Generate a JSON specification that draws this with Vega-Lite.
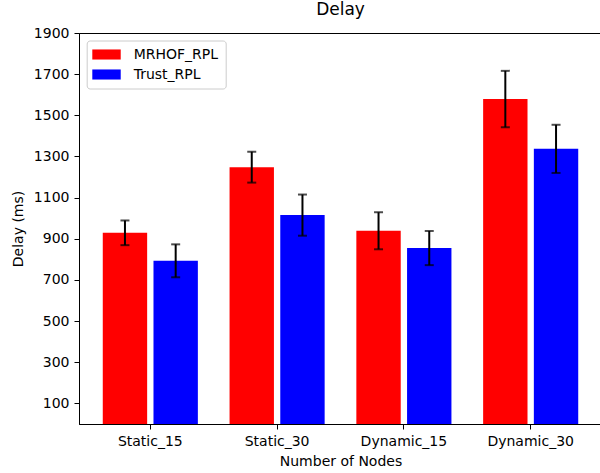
{
  "$schema": "https://vega.github.io/schema/vega-lite/v6.json",
  "autosize": {"type": "none"},
  "padding": {"left": 79, "top": 33, "right": 0, "bottom": 49},
  "width": 523,
  "height": 391,
  "title": {"text": "Delay", "fontSize": 17, "font": "DejaVu Sans", "fontWeight": "normal", "color": "black", "offset": 7},
  "config": {
    "view": {"stroke": "black", "strokeWidth": 1},
    "font": "DejaVu Sans",
    "axis": {"labelFont": "DejaVu Sans", "titleFont": "DejaVu Sans", "labelFontSize": 14, "titleFontSize": 14, "titleFontWeight": "normal", "labelColor": "black", "titleColor": "black", "domainColor": "black", "tickColor": "black", "tickSize": 5, "labelPadding": 5, "grid": false}
  },
  "data": {"values": [
    {"group": "Static_15", "protocol": "MRHOF_RPL", "delay": 929, "lo": 869, "hi": 989},
    {"group": "Static_15", "protocol": "Trust_RPL", "delay": 793, "lo": 713, "hi": 873},
    {"group": "Static_30", "protocol": "MRHOF_RPL", "delay": 1248, "lo": 1173, "hi": 1323},
    {"group": "Static_30", "protocol": "Trust_RPL", "delay": 1015, "lo": 915, "hi": 1115},
    {"group": "Dynamic_15", "protocol": "MRHOF_RPL", "delay": 939, "lo": 849, "hi": 1029},
    {"group": "Dynamic_15", "protocol": "Trust_RPL", "delay": 855, "lo": 772, "hi": 938},
    {"group": "Dynamic_30", "protocol": "MRHOF_RPL", "delay": 1579, "lo": 1442, "hi": 1716},
    {"group": "Dynamic_30", "protocol": "Trust_RPL", "delay": 1337, "lo": 1220, "hi": 1454}
  ]},
  "encoding": {
    "x": {"field": "group", "type": "nominal", "sort": ["Static_15", "Static_30", "Dynamic_15", "Dynamic_30"],
      "scale": {"paddingInner": 0.25, "paddingOuter": 0.1875},
      "axis": {"title": "Number of Nodes", "labelAngle": 0, "titlePadding": 6}},
    "xOffset": {"field": "protocol", "type": "nominal", "sort": ["MRHOF_RPL", "Trust_RPL"],
      "scale": {"paddingInner": 0.125, "paddingOuter": 0}}
  },
  "layer": [
    {
      "mark": {"type": "bar"},
      "encoding": {
        "y": {"field": "delay", "type": "quantitative", "scale": {"domain": [0, 1900], "nice": false},
          "axis": {"title": "Delay (ms)", "format": "d", "values": [100, 300, 500, 700, 900, 1100, 1300, 1500, 1700, 1900], "titlePadding": 8}},
        "color": {"field": "protocol", "type": "nominal", "sort": ["MRHOF_RPL", "Trust_RPL"],
          "scale": {"domain": ["MRHOF_RPL", "Trust_RPL"], "range": ["#ff0000", "#0000ff"]},
          "legend": {"title": null, "orient": "none", "legendX": 7.7, "legendY": 7.5,
            "symbolType": "M-1.2,-0.72H2.86V0.72H-1.2Z", "symbolSize": 196, "symbolStrokeWidth": 0,
            "labelFontSize": 14, "labelFont": "DejaVu Sans", "labelColor": "black", "labelOffset": 26,
            "rowPadding": 6, "padding": 7, "fillColor": "white", "strokeColor": "#cccccc", "cornerRadius": 3}}
      }
    },
    {
      "mark": {"type": "rule", "color": "black", "strokeWidth": 2},
      "encoding": {"y": {"field": "lo", "type": "quantitative"}, "y2": {"field": "hi"}}
    },
    {
      "mark": {"type": "tick", "color": "black", "thickness": 2, "size": 9},
      "encoding": {"y": {"field": "lo", "type": "quantitative"}}
    },
    {
      "mark": {"type": "tick", "color": "black", "thickness": 2, "size": 9},
      "encoding": {"y": {"field": "hi", "type": "quantitative"}}
    }
  ]
}
